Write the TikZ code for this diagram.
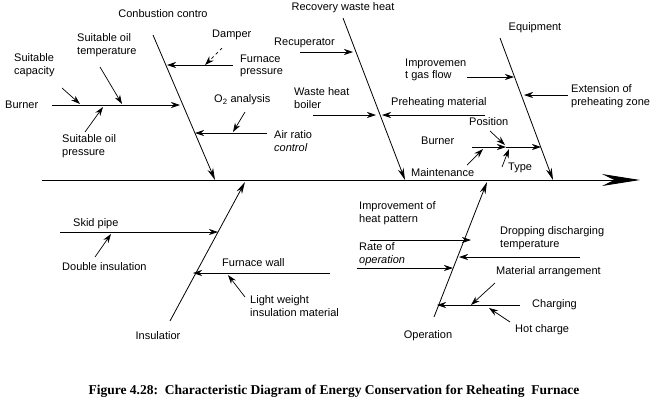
\documentclass[tikz,border=0pt]{standalone}
\usepackage{fontspec}
\setmainfont{Liberation Sans}
\newfontfamily\capfont{Liberation Serif}
\usetikzlibrary{arrows.meta}
\begin{document}
\begin{tikzpicture}[x=1pt,y=-1pt,
  lbl/.style={font=\fontsize{11}{12.5}\selectfont,inner sep=0pt,align=left},
  ar/.style={-{Stealth[length=9pt,width=6pt]},line width=0.7pt},
  bone/.style={line width=0.8pt,-{Stealth[length=12pt,width=6pt]}},
  pt/.style={coordinate}]
\useasboundingbox (0,0) rectangle (672,416);
% spine
\node[pt] (s0) at (42,180) {}; \node[pt] (s1) at (640,180) {};
\draw[line width=0.9pt,-{Stealth[length=38pt,width=12pt]}] (s0) -- (s1);
% Combustion
\node[lbl] (tc) at (163,14) {Conbustion contro};
\node[pt] (c0) at (153,35) {}; \node[pt] (c1) at (215,180) {};
\draw[bone] (c0) -- (c1);
\node[lbl,anchor=west] (burn) at (5,105) {Burner};
\node[pt] (b0) at (52,105) {}; \node[pt] (b1) at (180,105) {};
\draw[ar] (b0) -- (b1);
\node[lbl,anchor=west] (sc) at (14,65) {Suitable\\capacity};
\node[pt] (sc0) at (62,88) {}; \node[pt] (sc1) at (80,104) {};
\draw[ar] (sc0) -- (sc1);
\node[lbl,anchor=west] (sot) at (77,45) {Suitable oil\\temperature};
\node[pt] (t0) at (100,67) {}; \node[pt] (t1) at (122,104) {};
\draw[ar] (t0) -- (t1);
\node[lbl,anchor=west] (sop) at (62,146) {Suitable oil\\pressure};
\node[pt] (p0) at (85,132) {}; \node[pt] (p1) at (103,107) {};
\draw[ar] (p0) -- (p1);
\node[pt] (fp0) at (233,65) {}; \node[pt] (fp1) at (167,65) {};
\draw[ar] (fp0) -- (fp1);
\node[lbl,anchor=west] (fp) at (240,66) {Furnace\\pressure};
\node[lbl,anchor=west] (dam) at (212,35) {Damper};
\node[pt] (d0) at (222,48) {}; \node[pt] (d1) at (205,65) {};
\draw[ar,dashed] (d0) -- (d1);
\node[pt] (ar0) at (267,133) {}; \node[pt] (ar1) at (195,133) {};
\draw[ar] (ar0) -- (ar1);
\node[lbl,anchor=west] (o2) at (214,100) {O\textsubscript{2} analysis};
\node[pt] (o0) at (245,112) {}; \node[pt] (o1) at (233,132) {};
\draw[ar] (o0) -- (o1);
\node[lbl,anchor=west] (arc) at (274,141) {Air ratio\\\textit{control}};
% Recovery
\node[lbl] (rw) at (343,8) {Recovery waste heat};
\node[pt] (r0) at (343,18) {}; \node[pt] (r1) at (405,180) {};
\draw[bone] (r0) -- (r1);
\node[lbl,anchor=west] (rec) at (274,43) {Recuperator};
\node[pt] (rc0) at (300,52) {}; \node[pt] (rc1) at (353,52) {};
\draw[ar] (rc0) -- (rc1);
\node[lbl,anchor=west] (whb) at (294,98) {Waste heat\\boiler};
\node[pt] (wb0) at (313,115) {}; \node[pt] (wb1) at (376,115) {};
\draw[ar] (wb0) -- (wb1);
\node[lbl,anchor=west] (pm) at (391,103) {Preheating material};
\node[pt] (pm0) at (485,115) {}; \node[pt] (pm1) at (382,115) {};
\draw[ar] (pm0) -- (pm1);
% Equipment
\node[lbl] (eq) at (535,28) {Equipment};
\node[pt] (e0) at (500,38) {}; \node[pt] (e1) at (553,180) {};
\draw[bone] (e0) -- (e1);
\node[lbl,anchor=west] (igf) at (405,70) {Improvemen\\t gas flow};
\node[pt] (ig0) at (467,77) {}; \node[pt] (ig1) at (514,77) {};
\draw[ar] (ig0) -- (ig1);
\node[pt] (ex0) at (568,95) {}; \node[pt] (ex1) at (524,95) {};
\draw[ar] (ex0) -- (ex1);
\node[lbl,anchor=west] (ext) at (571,96) {Extension of\\preheating zone};
\node[lbl,anchor=west] (bu2) at (421,141) {Burner};
\node[pt] (bb0) at (472,147) {}; \node[pt] (bb1) at (541,147) {};
\node[pt] (bbm) at (506,147) {};
\draw[ar] (bb0) -- (bbm); \draw[ar] (bbm) -- (bb1);
\node[lbl,anchor=west] (pos) at (469,122) {Position};
\node[pt] (po0) at (490,131) {}; \node[pt] (po1) at (505,145) {};
\draw[ar] (po0) -- (po1);
\node[lbl,anchor=west] (typ) at (508,168) {Type};
\node[pt] (ty0) at (502,167) {}; \node[pt] (ty1) at (509,149) {};
\draw[ar] (ty0) -- (ty1);
\node[lbl,anchor=west] (mnt) at (411,173) {Maintenance};
\node[pt] (mn0) at (467,165) {}; \node[pt] (mn1) at (483,149) {};
\draw[ar] (mn0) -- (mn1);
% Insulation
\node[lbl] (ins) at (158,336) {Insulatior};
\node[pt] (i0) at (170,321) {}; \node[pt] (i1) at (245,182) {};
\draw[bone] (i0) -- (i1);
\node[lbl,anchor=west] (sk) at (73,224) {Skid pipe};
\node[pt] (sk0) at (60,232) {}; \node[pt] (sk1) at (218,232) {};
\draw[ar] (sk0) -- (sk1);
\node[lbl,anchor=west] (di) at (62,267) {Double insulation};
\node[pt] (di0) at (95,257) {}; \node[pt] (di1) at (111,234) {};
\draw[ar] (di0) -- (di1);
\node[lbl,anchor=west] (fw) at (222,263) {Furnace wall};
\node[pt] (fw0) at (330,273) {}; \node[pt] (fw1) at (193,273) {};
\draw[ar] (fw0) -- (fw1);
\node[lbl,anchor=west] (lw) at (250,306) {Light weight\\insulation material};
\node[pt] (lw0) at (245,297) {}; \node[pt] (lw1) at (228,275) {};
\draw[ar] (lw0) -- (lw1);
% Operation
\node[lbl] (op) at (428,336) {Operation};
\node[pt] (op0) at (434,317) {}; \node[pt] (op1) at (487,182) {};
\draw[bone] (op0) -- (op1);
\node[lbl,anchor=west] (ihp) at (359,213) {Improvement of\\heat pattern};
\node[pt] (ih0) at (370,240) {}; \node[pt] (ih1) at (471,240) {};
\draw[ar] (ih0) -- (ih1);
\node[lbl,anchor=west] (ddt) at (500,238) {Dropping discharging\\temperature};
\node[pt] (dd0) at (580,257) {}; \node[pt] (dd1) at (459,257) {};
\draw[ar] (dd0) -- (dd1);
\node[lbl,anchor=west] (rop) at (359,254) {Rate of\\\textit{operation}};
\node[pt] (ro0) at (357,268) {}; \node[pt] (ro1) at (453,268) {};
\draw[ar] (ro0) -- (ro1);
\node[lbl,anchor=west] (ma) at (496,272) {Material arrangement};
\node[pt] (ma0) at (495,283) {}; \node[pt] (ma1) at (471,305) {};
\draw[ar] (ma0) -- (ma1);
\node[lbl,anchor=west] (ch) at (532,305) {Charging};
\node[pt] (ch0) at (520,305) {}; \node[pt] (ch1) at (437,305) {};
\draw[ar] (ch0) -- (ch1);
\node[lbl,anchor=west] (hc) at (515,330) {Hot charge};
\node[pt] (hc0) at (510,322) {}; \node[pt] (hc1) at (489,308) {};
\draw[ar] (hc0) -- (hc1);
% caption
\node[font=\capfont\bfseries\fontsize{13.5}{15}\selectfont,inner sep=0pt] (cap) at (334,391) {Figure 4.28:\ \ Characteristic Diagram of Energy Conservation for Reheating\ \ Furnace};
\end{tikzpicture}
\end{document}
